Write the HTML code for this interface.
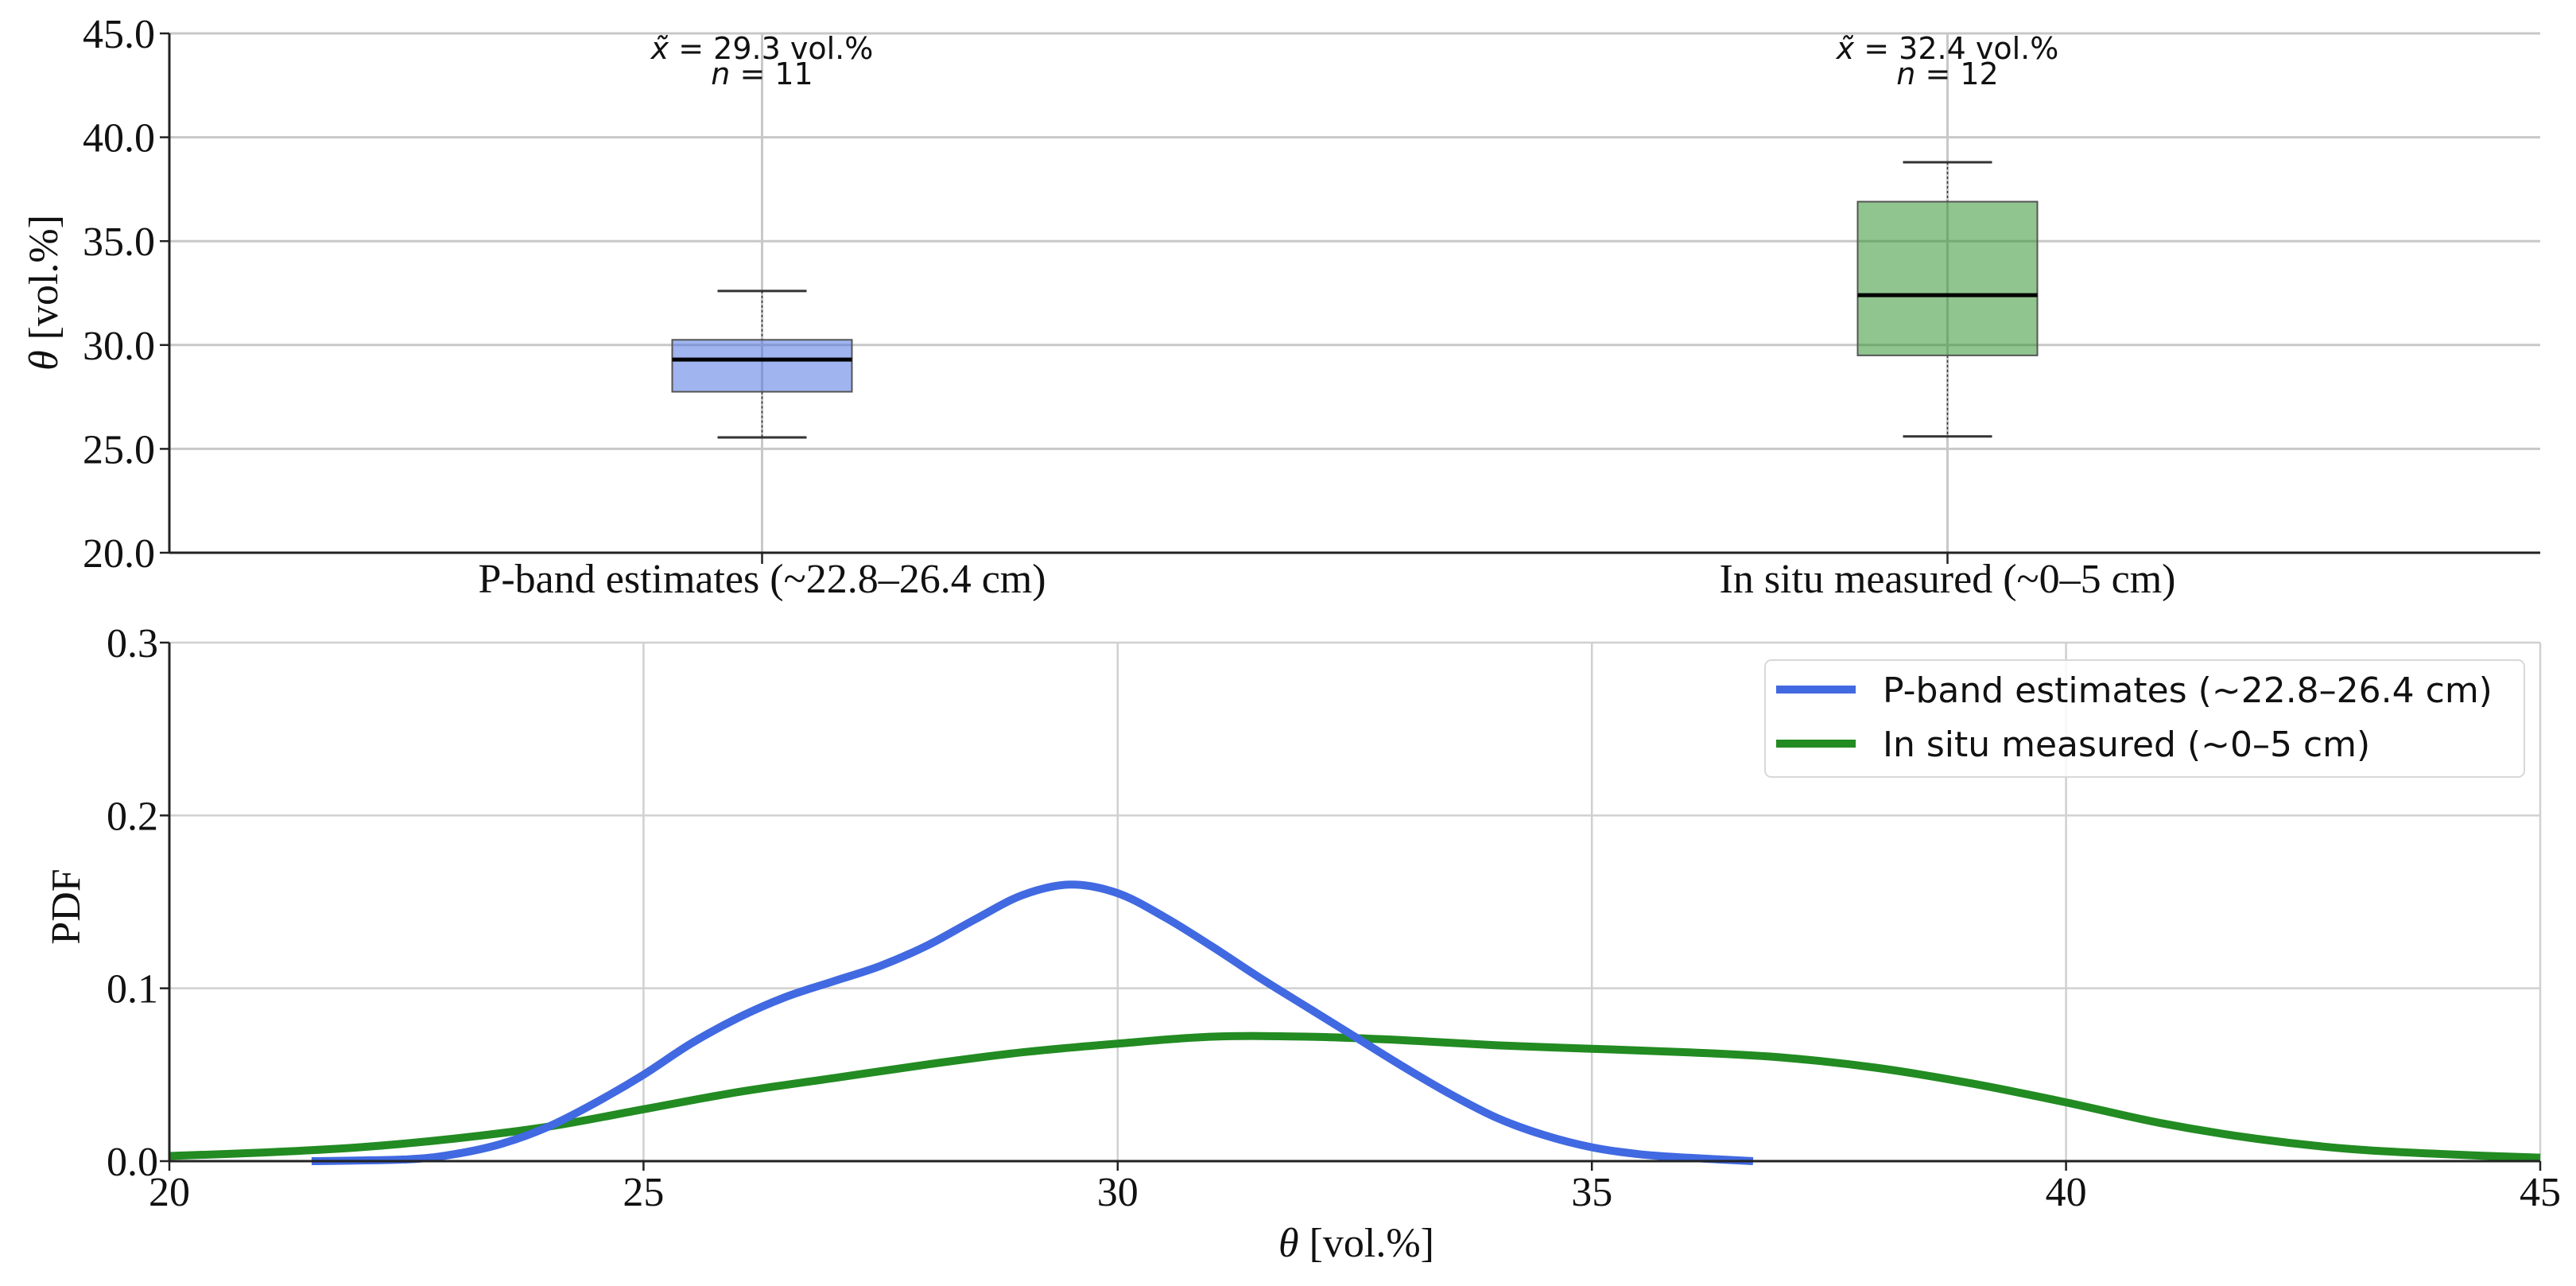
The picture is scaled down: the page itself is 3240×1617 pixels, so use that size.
<!DOCTYPE html>
<html><head><meta charset="utf-8"><style>
body{margin:0;background:#fff}
svg{display:block}
.tk{font-family:"Liberation Serif",serif;font-size:52px;fill:#111}
.sans{font-family:"DejaVu Sans","Liberation Sans",sans-serif}
</style></head><body>
<svg id="chart" width="3240" height="1617" viewBox="0 0 3240 1617" xmlns="http://www.w3.org/2000/svg"></svg>
<script>
const boxCategories=["P-band estimates (~22.8–26.4 cm)","In situ measured (~0–5 cm)"];
const boxMedians=[29.3,32.4];
const boxQ1=[27.75,29.5];
const boxQ3=[30.25,36.9];
const boxWhiskLow=[25.55,25.6];
const boxWhiskHigh=[32.6,38.8];
const boxCounts=[11,12];
const topTicks=[20,25,30,35,40,45];
const pdfXTicks=[20,25,30,35,40,45];
const pdfYTicks=[0,0.1,0.2,0.3];
const blueX=[21.5,22.5,23,23.5,24,24.5,25,25.5,26,26.5,27,27.5,28,28.5,29,29.5,30,30.5,31,31.5,32,32.5,33,33.5,34,34.5,35,35.5,36,36.7];
const blueY=[0,0.001,0.004,0.01,0.02,0.034,0.05,0.068,0.083,0.095,0.104,0.113,0.125,0.14,0.154,0.16,0.155,0.141,0.124,0.106,0.089,0.072,0.055,0.039,0.025,0.015,0.008,0.004,0.002,0.0];
const greenX=[20,21,22,23,24,25,26,27,28,29,30,31,32,33,34,35,36,37,38,39,40,41,42,43,44,45];
const greenY=[0.003,0.005,0.008,0.013,0.02,0.03,0.04,0.048,0.056,0.063,0.068,0.072,0.072,0.07,0.067,0.065,0.063,0.06,0.054,0.045,0.034,0.022,0.013,0.007,0.004,0.002];

const svg=document.getElementById('chart');
const NS='http://www.w3.org/2000/svg';
function mk(tag,attrs,parent,text){const e=document.createElementNS(NS,tag);for(const k in attrs)e.setAttribute(k,attrs[k]);if(text!==undefined)e.textContent=text;(parent||svg).appendChild(e);return e;}
const L=213,R=3195;
const tT=42,tB=695;
const ty=v=>tB-(v-20)/25*(tB-tT);
const catX=i=>L+(R-L)*(0.25+0.5*i);
const gTop=mk('g',{});


topTicks.forEach(v=>{
  const l=mk('line',{x1:L,x2:R,y1:ty(v),y2:ty(v),stroke:'#c8c8c8','stroke-width':3},gTop);
  
  mk('line',{x1:L-12,x2:L,y1:ty(v),y2:ty(v),stroke:'#222','stroke-width':2.5},gTop);
  const t=mk('text',{x:L-18,y:ty(v)+18,'text-anchor':'end',class:'tk'},gTop,v.toFixed(1));
  
});
boxCategories.forEach((c,i)=>{
  const x=catX(i);
  mk('line',{x1:x,x2:x,y1:tT,y2:tB,stroke:'#c8c8c8','stroke-width':3},gTop);
  mk('line',{x1:x,x2:x,y1:tB,y2:tB+14,stroke:'#222','stroke-width':2.5},gTop);
  const t=mk('text',{x:x,y:745,'text-anchor':'middle',class:'tk'},gTop,c);
  
});
const fills=['rgba(65,105,225,0.5)','rgba(34,139,34,0.5)'];
boxCategories.forEach((c,i)=>{
  const x=catX(i),hw=113,cw=56;
  const g=mk('g',{},gTop);
  
  
  mk('line',{x1:x,x2:x,y1:ty(boxWhiskHigh[i]),y2:ty(boxQ3[i]),stroke:'#333','stroke-width':1.5,'stroke-dasharray':'3,3'},g);
  mk('line',{x1:x,x2:x,y1:ty(boxQ1[i]),y2:ty(boxWhiskLow[i]),stroke:'#333','stroke-width':1.5,'stroke-dasharray':'3,3'},g);
  mk('line',{x1:x-cw,x2:x+cw,y1:ty(boxWhiskHigh[i]),y2:ty(boxWhiskHigh[i]),stroke:'#333','stroke-width':3},g);
  mk('line',{x1:x-cw,x2:x+cw,y1:ty(boxWhiskLow[i]),y2:ty(boxWhiskLow[i]),stroke:'#333','stroke-width':3},g);
  mk('rect',{x:x-hw,y:ty(boxQ3[i]),width:2*hw,height:ty(boxQ1[i])-ty(boxQ3[i]),fill:fills[i],stroke:'#555','stroke-width':2},g);
  mk('line',{x1:x-hw,x2:x+hw,y1:ty(boxMedians[i]),y2:ty(boxMedians[i]),stroke:'#000','stroke-width':5},g);
  const a=mk('text',{x:x,y:74,'text-anchor':'middle',class:'sans','font-size':38,fill:'#111'},gTop);
  
  mk('tspan',{'font-style':'italic'},a,'x̃');mk('tspan',{},a,' = '+boxMedians[i].toFixed(1)+' vol.%');
  const n=mk('text',{x:x,y:106,'text-anchor':'middle',class:'sans','font-size':38,fill:'#111'},gTop);
  
  mk('tspan',{'font-style':'italic'},n,'n');mk('tspan',{},n,' = '+boxCounts[i]);
});
mk('line',{x1:L,x2:L,y1:tT,y2:tB,stroke:'#222','stroke-width':3},gTop);
mk('line',{x1:L,x2:R,y1:tB,y2:tB,stroke:'#222','stroke-width':3},gTop);
const yl=mk('text',{x:0,y:0,transform:'translate(72,368) rotate(-90)','text-anchor':'middle',class:'tk','font-size':68},gTop);

mk('tspan',{'font-style':'italic'},yl,'θ');mk('tspan',{},yl,' [vol.%]');

const bT=808,bB=1460;
const px=v=>L+(v-20)/25*(R-L);
const py=v=>bB-v/0.3*(bB-bT);
const gB=mk('g',{});


pdfYTicks.forEach(v=>{
  mk('line',{x1:L,x2:R,y1:py(v),y2:py(v),stroke:'#d0d0d0','stroke-width':2.5},gB);
  mk('line',{x1:L-12,x2:L,y1:py(v),y2:py(v),stroke:'#222','stroke-width':2.5},gB);
  const t=mk('text',{x:L-14,y:py(v)+18,'text-anchor':'end',class:'tk'},gB,v.toFixed(1));
  
});
pdfXTicks.forEach(v=>{
  mk('line',{x1:px(v),x2:px(v),y1:bT,y2:bB,stroke:'#d0d0d0','stroke-width':2.5},gB);
  mk('line',{x1:px(v),x2:px(v),y1:bB,y2:bB+12,stroke:'#222','stroke-width':2.5},gB);
  const t=mk('text',{x:px(v),y:bB+56,'text-anchor':'middle',class:'tk'},gB,String(v));
  
});
function smooth(xs,ys){
  const p=xs.map((x,i)=>[px(x),py(ys[i])]);
  let d='M'+p[0][0]+','+p[0][1];
  for(let i=0;i<p.length-1;i++){
    const p0=p[Math.max(0,i-1)],p1=p[i],p2=p[i+1],p3=p[Math.min(p.length-1,i+2)];
    d+=' C'+(p1[0]+(p2[0]-p0[0])/6)+','+(p1[1]+(p2[1]-p0[1])/6)+' '+(p2[0]-(p3[0]-p1[0])/6)+','+(p2[1]-(p3[1]-p1[1])/6)+' '+p2[0]+','+p2[1];
  }
  return d;
}
const gl=mk('path',{d:smooth(greenX,greenY),fill:'none',stroke:'#228b22','stroke-width':10,'stroke-linejoin':'round'},gB);

const bl=mk('path',{d:smooth(blueX,blueY),fill:'none',stroke:'#4169e1','stroke-width':10,'stroke-linejoin':'round'},gB);

svg.appendChild(gl);svg.appendChild(bl);
mk('line',{x1:L,x2:L,y1:bT,y2:bB,stroke:'#222','stroke-width':3});
mk('line',{x1:L,x2:R,y1:bB,y2:bB,stroke:'#222','stroke-width':3});
const pl=mk('text',{x:0,y:0,transform:'translate(100,1140) rotate(-90)','text-anchor':'middle',class:'tk','font-size':60});
pl.textContent='PDF';

const xl=mk('text',{x:1706,y:1580,'text-anchor':'middle',class:'tk','font-size':70});

mk('tspan',{'font-style':'italic'},xl,'θ');mk('tspan',{},xl,' [vol.%]');
const lg=mk('g',{});

mk('rect',{x:2220,y:830,width:955,height:147,rx:8,fill:'rgba(255,255,255,0.85)',stroke:'#d8d8d8','stroke-width':2},lg);
const names=['P-band estimates (~22.8–26.4 cm)','In situ measured (~0–5 cm)'];
const cols=['#4169e1','#228b22'];
names.forEach((n,i)=>{
  const e=mk('g',{},lg);
  
  const y=867+i*68;
  mk('line',{x1:2234,x2:2334,y1:y,y2:y,stroke:cols[i],'stroke-width':10},e);
  mk('text',{x:2368,y:y+16,class:'sans','font-size':44,fill:'#111'},e,n);
});
</script>
</body></html>
